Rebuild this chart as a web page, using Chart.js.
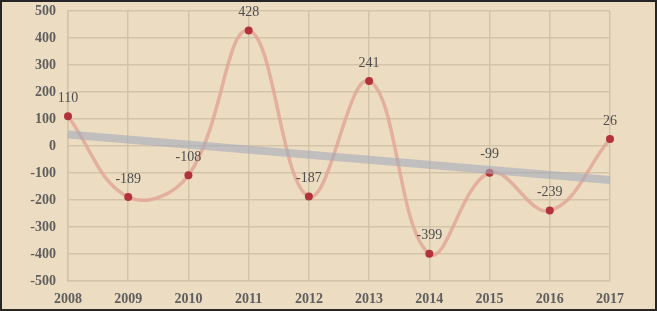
<!DOCTYPE html>
<html>
<head>
<meta charset="utf-8">
<script src="https://cdn.jsdelivr.net/npm/chart.js@4/dist/chart.umd.min.js"></script>
<style>
  html, body { margin: 0; padding: 0; background: #ffffff; }
  #wrap {
    width: 657px; height: 311px; box-sizing: border-box;
    border: 2px solid #262626; background: #ecdcc2;
  }
  #chart { display: block; }
</style>
</head>
<body>
<div id="wrap"><canvas id="chart" width="653" height="307"></canvas></div>
<script>
// data
const years = ['2008', '2009', '2010', '2011', '2012', '2013', '2014', '2015', '2016', '2017'];
const values = [110, -189, -108, 428, -187, 241, -399, -99, -239, 26];
// linear trend, end points as seen in the chart
const trendStart = 43;
const trendEnd = -126;

const labelFont = '"Liberation Serif", "DejaVu Serif", serif';
const textColor = '#5f5f5f';
const gridColor = '#d3c3a8';

// draws the value above each point
const valueLabels = {
    id: 'valueLabels',
    afterDatasetsDraw(chart) {
        const ctx = chart.ctx;
        const meta = chart.getDatasetMeta(1);
        ctx.save();
        ctx.font = '14px ' + labelFont;
        ctx.fillStyle = '#4d4d4d';
        ctx.textAlign = 'center';
        ctx.textBaseline = 'middle';
        meta.data.forEach((pt, i) => {
            ctx.fillText(String(values[i]), pt.x, pt.y - 18);
        });
        ctx.restore();
    }
};

const ctx = document.getElementById('chart').getContext('2d');
const chart = new Chart(ctx, {
    type: 'line',
    data: {
        labels: years,
        datasets: [
            {
                // trend line
                data: [{ x: years[0], y: trendStart }, { x: years[years.length - 1], y: trendEnd }],
                borderColor: 'rgba(165, 172, 186, 0.6)',
                borderWidth: 8,
                pointRadius: 0,
                tension: 0,
                fill: false
            },
            {
                data: values,
                borderColor: 'rgba(226, 168, 150, 0.85)',
                borderWidth: 3.5,
                tension: 0.4,
                pointRadius: 4,
                pointBackgroundColor: '#b3323a',
                pointBorderColor: '#b3323a',
                pointBorderWidth: 0,
                fill: false
            }
        ]
    },
    options: {
        responsive: false,
        animation: false,
        layout: {
            padding: { top: 9, right: 45, bottom: 0, left: 0 }
        },
        scales: {
            x: {
                offset: false,
                grid: { color: gridColor, lineWidth: 1.5, drawTicks: false },
                border: { color: gridColor, width: 1.5 },
                ticks: {
                    color: textColor,
                    padding: 10,
                    maxRotation: 0,
                    font: { family: labelFont, size: 14, weight: 'bold' }
                },
                afterFit(scale) {
                    scale.height = 28;
                    scale.paddingLeft = 0;
                    scale.paddingRight = 0;
                }
            },
            y: {
                min: -500,
                max: 500,
                grid: { color: gridColor, lineWidth: 1.5, drawTicks: false },
                border: { color: gridColor, width: 1.5 },
                ticks: {
                    stepSize: 100,
                    color: textColor,
                    padding: 12,
                    font: { family: labelFont, size: 14, weight: 'bold' }
                },
                afterFit(scale) {
                    scale.width = 66;
                    scale.paddingTop = 0;
                    scale.paddingBottom = 0;
                }
            }
        },
        plugins: {
            legend: { display: false },
            tooltip: { enabled: false }
        }
    },
    plugins: [valueLabels]
});
</script>
</body>
</html>
